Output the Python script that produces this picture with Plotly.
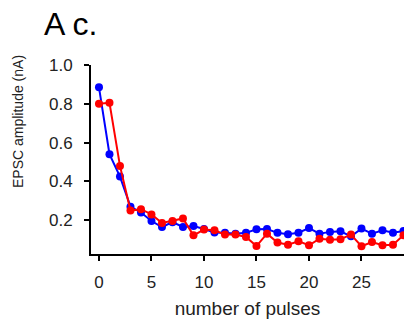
import plotly.graph_objects as go

pulses = list(range(30))
blue_vals = [0.885, 0.54, 0.425, 0.27, 0.24, 0.196, 0.165, 0.19, 0.165, 0.17,
             0.155, 0.137, 0.135, 0.13, 0.135, 0.153, 0.155, 0.135, 0.128, 0.136,
             0.16, 0.131, 0.14, 0.143, 0.117, 0.157, 0.131, 0.148, 0.136, 0.145]
red_vals = [0.80, 0.805, 0.48, 0.25, 0.257, 0.23, 0.186, 0.196, 0.209, 0.122,
            0.152, 0.148, 0.126, 0.126, 0.114, 0.067, 0.131, 0.085, 0.074, 0.092,
            0.071, 0.105, 0.10, 0.102, 0.126, 0.066, 0.088, 0.071, 0.074, 0.123]
x_ticks = [0, 5, 10, 15, 20, 25]
y_ticks = [0.2, 0.4, 0.6, 0.8, 1.0]

FONT = "Liberation Sans, Arial, sans-serif"
W, H = 406, 324
ML, MR, MT, MB = 91, 2, 65, 70

fig = go.Figure()
fig.add_trace(go.Scatter(x=pulses, y=blue_vals, mode="lines+markers",
                         line=dict(color="#0000ff", width=2),
                         marker=dict(color="#0000ff", size=8)))
fig.add_trace(go.Scatter(x=pulses, y=red_vals, mode="lines+markers",
                         line=dict(color="#ff0000", width=2),
                         marker=dict(color="#ff0000", size=8)))

pw = W - ML - MR
ph = H - MT - MB


def px2paper(px, py):
    return (px - ML) / pw, (H - py - MB) / ph


tx, ty = px2paper(42, 44)
yx, yy = px2paper(18, 122)

fig.update_layout(
    width=W, height=H,
    margin=dict(l=ML, r=MR, t=MT, b=MB),
    paper_bgcolor="white", plot_bgcolor="white",
    showlegend=False,
    font=dict(family=FONT, color="#222222", size=17),
    xaxis=dict(range=[-0.76, 29.05], tickvals=x_ticks, showgrid=False, zeroline=False,
               showline=True, linecolor="black", linewidth=2,
               ticks="outside", ticklen=5, tickwidth=2, tickcolor="black",
               tickfont=dict(size=17), ticklabelstandoff=7,
               title=dict(text="number of pulses", font=dict(size=19), standoff=10)),
    yaxis=dict(range=[0.026, 1.0], tickvals=y_ticks, tickformat=".1f", showgrid=False,
               zeroline=False, showline=True, linecolor="black", linewidth=2,
               ticks="outside", ticklen=5, tickwidth=2, tickcolor="black",
               tickfont=dict(size=17), ticklabelstandoff=8),
    annotations=[
        dict(text="A c.", x=tx, y=ty, xref="paper", yref="paper", showarrow=False,
             font=dict(size=32, color="black"), xanchor="left", yanchor="bottom"),
        dict(text="EPSC amplitude (nA)", textangle=-90, showarrow=False,
             font=dict(size=14, color="#222222"),
             xref="paper", yref="paper", x=yx, y=yy,
             xanchor="center", yanchor="middle"),
    ],
)

fig.write_html("out.html")
